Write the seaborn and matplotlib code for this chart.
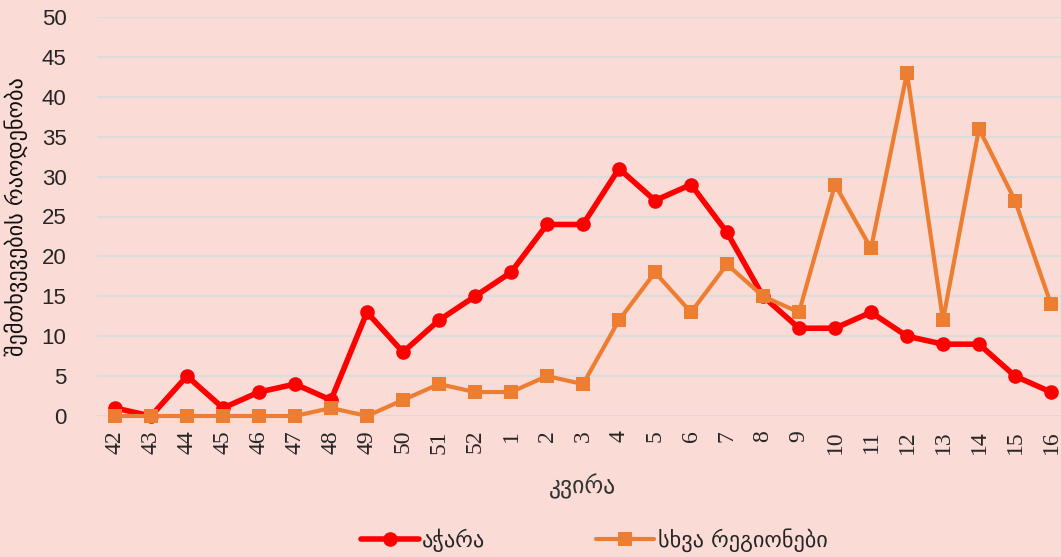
import matplotlib
matplotlib.use("Agg")
import matplotlib.pyplot as plt
import seaborn as sns
import pandas as pd
import numpy as np

weeks = ["42", "43", "44", "45", "46", "47", "48", "49", "50", "51", "52",
         "1", "2", "3", "4", "5", "6", "7", "8", "9", "10", "11", "12", "13", "14", "15", "16"]
ajara = [1, 0, 5, 1, 3, 4, 2, 13, 8, 12, 15, 18, 24, 24, 31, 27, 29, 23, 15, 11, 11, 13, 10, 9, 9, 5, 3]
other = [0, 0, 0, 0, 0, 0, 1, 0, 2, 4, 3, 3, 5, 4, 12, 18, 13, 19, 15, 13, 29, 21, 43, 12, 36, 27, 14]
series_names = ["აჭარა", "სხვა რეგიონები"]
y_ticks = [0, 5, 10, 15, 20, 25, 30, 35, 40, 45, 50]

BG = "#FADBD5"
RED = "#FF0000"
ORANGE = "#ED7D31"

sns.set_theme(style="white")
plt.rcParams["font.family"] = ["DejaVu Sans"]

pos = np.arange(len(weeks))
df = pd.DataFrame({"pos": np.concatenate([pos, pos]),
                   "value": ajara + other,
                   "series": [series_names[0]] * len(weeks) + [series_names[1]] * len(weeks)})

fig = plt.figure(figsize=(10.61, 5.57), dpi=100, facecolor=BG)
ax = fig.add_axes([97 / 1061, 1 - 416 / 557, (1069 - 97) / 1061, (416 - 17) / 557])
ax.set_facecolor(BG)

sns.lineplot(data=df[df.series == series_names[1]], x="pos", y="value", ax=ax,
             color=ORANGE, linewidth=3, marker="s", markersize=10.5, markeredgewidth=0,
             label=series_names[1], zorder=3, clip_on=False)
sns.lineplot(data=df[df.series == series_names[0]], x="pos", y="value", ax=ax,
             color=RED, linewidth=4, marker="o", markersize=10.5, markeredgewidth=0,
             label=series_names[0], zorder=2, clip_on=False)

ax.set_xlim(-0.5, len(weeks) - 0.5)
ax.set_ylim(0, 50)
ax.set_yticks(y_ticks)
ax.set_yticklabels([str(t) for t in y_ticks], fontsize=16, family=["Liberation Sans", "DejaVu Sans"])
ax.set_xticks(pos)
ax.set_xticklabels(weeks, rotation=90, fontsize=17, family=["Liberation Serif", "DejaVu Serif"])
ax.tick_params(axis="both", length=0)
ax.tick_params(axis="y", pad=22)
ax.tick_params(axis="x", pad=10)

for t in y_ticks[1:]:
    ax.axhline(t, color="#DCDCDC", linewidth=1.5, zorder=0)
ax.axhline(0, color="#D9D9D9", linewidth=2, zorder=1)
for s in ax.spines.values():
    s.set_visible(False)

ax.set_xlabel("კვირა", fontsize=17, color="#333333", labelpad=14)
ax.set_ylabel("შემთხვევების რაოდენობა", fontsize=16, color="#111111", labelpad=10)

handles, labels = ax.get_legend_handles_labels()
order = [labels.index(series_names[0]), labels.index(series_names[1])]
leg = fig.legend([handles[i] for i in order], [labels[i] for i in order],
                 loc="center", bbox_to_anchor=(0.56, 1 - 540 / 557),
                 ncol=2, frameon=False, fontsize=16, handlelength=2.6, columnspacing=5,
                 handletextpad=0.15)
ax.get_legend().remove()

fig.savefig("out.png", dpi=100, facecolor=BG)
